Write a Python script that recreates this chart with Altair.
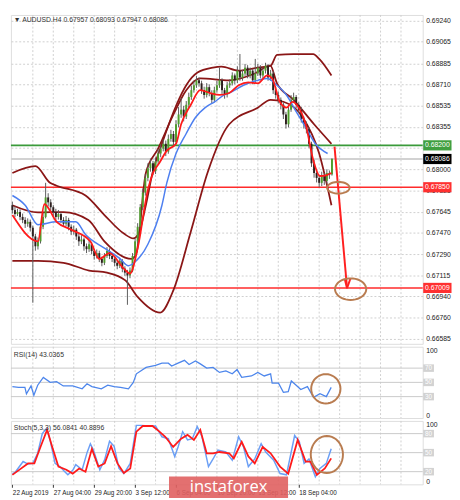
import math
import altair as alt
import pandas as pd

# ---------------- data (prices in 1e-5 units) ----------------
BAR = list(range(126))
OPEN = [67700,67659,67626,67643,67602,67577,67545,67561,67512,67439,67357,67398,67520,67602,67765,67724,67683,67643,67602,67626,
        67577,67545,67577,67520,67480,67496,67439,67398,67414,67357,67333,67374,67317,67276,67300,67251,67219,67276,67317,67276,
        67251,67219,67194,67235,67170,67137,67113,67154,67276,67398,67520,67683,67806,67928,68009,68050,67985,68066,68132,68172,
        68213,68148,68254,68295,68229,68376,68458,68498,68441,68539,68604,68661,68702,68743,68718,68661,68621,68686,68637,68580,
        68661,68702,68743,68661,68621,68702,68718,68784,68743,68824,68767,68800,68849,68784,68824,68743,68800,68849,68784,68824,
        68865,68767,68800,68661,68621,68580,68539,68458,68376,68498,68580,68604,68539,68498,68417,68376,68335,68213,68050,67969,
        67928,67887,67952,67903,67969,67957]
HIGH = [67730,67690,67670,67665,67630,67600,67590,67580,67530,67460,67430,67545,67640,67887,67800,67750,67700,67670,67660,67640,
        67600,67610,67595,67540,67530,67510,67460,67450,67430,67380,67410,67390,67335,67330,67320,67270,67300,67350,67340,67300,
        67270,67240,67260,67250,67190,67160,67180,67300,67420,67550,67710,67840,67960,68050,68090,68070,68100,68170,68210,68250,
        68240,68290,68330,68320,68410,68520,68596,68530,68570,68640,68700,68740,68780,68770,68740,68690,68720,68710,68660,68690,
        68740,68849,68760,68680,68730,68750,68810,68800,68860,68963,68830,68880,68870,68850,68840,68922,68880,68870,68850,68890,
        68880,68830,68820,68690,68650,68600,68560,68480,68520,68620,68640,68620,68560,68520,68440,68400,68350,68230,68080,68000,
        67950,67980,67970,68000,67990,68093]
LOW = [67630,67600,67610,67575,67550,67510,67520,67480,66885,67320,67330,67380,67500,67590,67690,67650,67610,67570,67580,67550,
       67520,67525,67490,67450,67455,67410,67360,67375,67320,67300,67310,67290,67245,67255,67225,67190,67200,67260,67250,67225,
       67190,67165,67175,67140,67110,66868,67090,67140,67260,67380,67500,67660,67780,67900,67980,67950,67960,68040,68100,68150,
       68110,68130,68230,68190,68210,68350,68430,68400,68420,68510,68580,68640,68680,68690,68630,68590,68600,68610,68550,68560,
       68640,68680,68630,68590,68600,68680,68700,68710,68720,68740,68740,68780,68760,68760,68710,68720,68780,68760,68760,68800,
       68740,68740,68630,68590,68550,68500,68420,68340,68350,68480,68560,68510,68470,68390,68340,68300,68180,68020,67930,67890,
       67850,67860,67870,67880,67920,67947]
CLOSE = [67659,67626,67643,67602,67577,67545,67561,67512,67439,67357,67398,67520,67602,67765,67724,67683,67643,67602,67626,67577,
         67545,67577,67520,67480,67496,67439,67398,67414,67357,67333,67374,67317,67276,67300,67251,67219,67276,67317,67276,67251,
         67219,67194,67235,67170,67137,67113,67154,67276,67398,67520,67683,67806,67928,68009,68050,67985,68066,68132,68172,68213,
         68148,68254,68295,68229,68376,68458,68498,68441,68539,68604,68661,68702,68743,68718,68661,68621,68686,68637,68580,68661,
         68702,68743,68661,68621,68702,68718,68784,68743,68824,68767,68800,68849,68784,68824,68743,68800,68849,68784,68824,68865,
         68767,68800,68661,68621,68580,68539,68458,68376,68498,68580,68604,68539,68498,68417,68376,68335,68213,68050,67969,67928,
         67887,67952,67903,67969,67957,68086]

RED_MA_I = [0,10,12.5,17.3,23,30.5,34,38,43.6,46,49,53,55,57.4,60.4,64,66,69.8,73.5,77.3,81,84.8,88.5,92.3,96,99.7,101.6,104.6,107.2,109.5,112,114.7,117.7,120.3,123,124.8]
RED_MA_P = [67618,67398,67708,67561,67496,67398,67251,67300,67170,67129,67341,67830,67969,68050,68156,68213,68376,68539,68661,68637,68621,68637,68702,68727,68718,68784,68759,68564,68515,68564,68515,68376,68075,67944,67952,67969]

BLUE_MA_I = [0,5,10,17.3,24.8,28.6,36,41.7,45.4,48.4,53,58.5,60.4,64,67.9,71.6,75.4,79.1,82.9,84.8,90.4,96,99.7,103.5,107.2,111,114.7,118.5,123.3]
BLUE_MA_P = [67781,67700,67537,67561,67561,67455,67341,67260,67194,67235,67374,67700,67887,68132,68295,68433,68515,68564,68621,68637,68702,68743,68759,68702,68621,68482,68352,68213,68132]

BBU_I = [0,9,14.7,17.3,28.6,36,43.6,47.3,49.2,52.2,54.8,58.5,64.2,68,72.4,78.4,81.8,88.5,96,101,103.5,110,117.7,120,124.8]
BBU_P = [67969,68026,67887,67863,67781,67618,67463,67423,67455,67700,67969,68213,68539,68702,68808,68849,68857,68824,68849,68865,68955,68963,68963,68922,68784]

BBL_I = [0,10,20,30,37,44.2,49,57.8,63,69.8,76.3,84.8,96,101,106,113.6,120,124.8]
BBL_P = [67235,67235,67219,67154,67137,67072,66934,66803,66991,67480,67969,68376,68515,68580,68564,68433,68132,67700]

INU_I = [0,10,20,29.7,36,46.6,48.5,52.2,57,63,68,73.5,84.8,94.8,100.9,103.5,110,118,124.8]
INU_P = [67700,67640,67643,67577,67398,67251,67300,67969,68172,68458,68660,68760,68743,68800,68865,68718,68580,68376,68213]

RSI_I = [0,2.4,4.9,5.5,7.3,8.4,9.9,12.1,14.8,17.3,19.9,23.6,27.3,29.2,31.1,34.8,37.3,39.8,42.3,45.4,47.3,48.5,52.3,56,58.5,61,62.3,64.8,67.3,69.1,
         71.6,73.5,76,78.5,81,83.5,86,87.9,89.7,93.5,96,98.5,101,101.6,104.1,106,107.9,109.1,111,112.8,115.4,117.8,120.3,122.8,124.7]
RSI_V = [44,43,43,34,45,32,46,57,50,51,45,45,41,48,44,41,46,44,43,41,50,62,71,74,77,77,73,77,81,75,
         80,76,70,71,64,66,62,68,57,59,64,59,62,49,49,36,37,52,46,40,44,29,34,30,43]

STK_I = [0,1.1,4.2,6.1,8,9.9,11.7,13.4,14.8,16.7,18.6,20.5,21.7,23.6,24.8,27.3,29.2,30.5,31.7,34.2,36.1,38,39.8,41.7,43.6,46.1,48.5,50.4,53.5,56,
         58.5,61,63.5,64.8,66.6,68.5,70.4,72.3,74.1,76.7,78.5,80.4,83.5,86,88.5,90.4,92.3,94.8,97.3,99.1,102.2,104.7,107.2,110.4,112.2,114.1,116,118.5,120.3,122.8,124.7]
STK_K = [17,19,36,32,33,49,80,88,69,33,28,20,15,22,31,23,50,64,54,23,39,68,60,25,17,33,93,93,92,92,
         75,72,44,59,83,70,72,91,76,28,40,54,51,38,75,59,28,40,64,51,38,17,15,77,68,33,40,12,25,33,56]
STK_D_I = [0,2.4,6.1,8.6,11.1,13.6,15.5,18,21.1,23.6,26.1,28.6,31.1,33.6,36.1,38.6,41.1,43.6,46.1,48.5,51,54.8,57.3,59.8,62.9,66,68.5,71,73.5,
           76,78.5,81,84.8,86.6,89.7,92.3,94.8,97.9,101,104.7,107.9,111.6,114.7,116.6,119.1,122.2,124.7]
STK_D = [15,22,33,33,60,86,60,28,23,17,25,20,56,28,33,60,33,18,25,83,92,92,84,75,59,72,78,70,86,
         49,49,51,49,41,67,44,33,59,49,28,17,70,36,36,15,25,41]

Y_TICKS = [0.69240,0.69065,0.68885,0.68710,0.68535,0.68355,0.68180,0.68000,0.67825,0.67645,0.67470,0.67290,0.67115,0.66940,0.66760,0.66585]
TAG_P = [0.68200, 0.68086, 0.67850, 0.67009]
TAG_TXT = ["0.68200", "0.68086", "0.67850", "0.67009"]
TAG_BG = ["#3f9f3f", "#000000", "#ff3030", "#ff3030"]
DATE_TICKS = [0, 16, 32, 48, 64, 80, 96, 112]
DATE_LABELS = ["22 Aug 2019", "27 Aug 04:00", "29 Aug 20:00", "3 Sep 12:00", "6 Sep 04:00", "10 Sep 20:00", "13 Sep 12:00", "18 Sep 04:00"]
GRID_X = list(range(8, 160, 8))
RSI_LEVELS = [70, 50, 30]
STK_LEVELS = [80, 50, 20]

TITLE = "\u25BC AUDUSD.H4 0.67957 0.68093 0.67947 0.68086"
RSI_TITLE = "RSI(14) 43.0365"
STK_TITLE = "Stoch(5,3,3) 56.0841 40.8896"

ARROW = dict(i=[126.0], p=[0.68189], i2=[130.9], p2=[0.67007])
HEAD = dict(i=[130.0, 132.2], p=[0.67086, 0.67086], i2=[130.9, 130.9], p2=[0.67007, 0.67007])

# ---------------- layout ----------------
W = 422
H_MAIN, H_RSI, H_STK = 337, 73, 65
XDOM = [-0.57, 160.5]
PDOM = [0.66542, 0.69289]
FONT = "Liberation Sans"
BROWN = "#8a1616"
ANNO = "#b97c50"


def ellipse(ry, n=40):
    pts = [(math.cos(2 * math.pi * k / n), ry * math.sin(2 * math.pi * k / n)) for k in range(n)]
    return "M" + "L".join(f"{x:.3f},{y:.3f}" for x, y in pts) + "Z"


def rect(h):
    return f"M-1,-{h}H1V{h}H-1Z"


def xq(axis=None):
    return alt.X("i:Q", scale=alt.Scale(domain=XDOM, nice=False, zero=False), axis=axis, title=None)


df = pd.DataFrame({"i": BAR, "o": OPEN, "h": HIGH, "l": LOW, "c": CLOSE})
for k in "ohlc":
    df[k] = df[k] / 1e5
df["up"] = df["c"] >= df["o"]


def series(I, P, scale=1e5):
    return pd.DataFrame({"i": I, "p": [v / scale for v in P]})


main_axis = alt.Axis(orient="right", values=Y_TICKS, format=".5f", grid=True, gridDash=[2, 2],
                     gridColor="#cfcfcf", labelFontSize=7, labelFont=FONT, labelColor="#222",
                     ticks=False, domain=False, labelPadding=3, title=None)


def py(field, axis=main_axis):
    return alt.Y(f"{field}:Q", scale=alt.Scale(domain=PDOM, nice=False, zero=False), axis=axis, title=None)


vgrid = alt.Chart(pd.DataFrame({"i": GRID_X})).mark_rule(color="#cfcfcf", strokeDash=[2, 2], strokeWidth=1)

m_grid = vgrid.encode(x=xq())
m_last = alt.Chart(pd.DataFrame({"p": [0.68086]})).mark_rule(color="#d2d2d2", strokeWidth=2).encode(y=py("p"))
m_lvl = alt.Chart(pd.DataFrame({"p": [0.68200, 0.67850, 0.67009], "col": ["#3a9a3a", "#ff2b2b", "#ff2b2b"]})).mark_rule(
    strokeWidth=1.6).encode(y=py("p"), color=alt.Color("col:N", scale=None))


def line(d, color, width):
    return alt.Chart(d).mark_line(color=color, strokeWidth=width, interpolate="monotone").encode(x=xq(), y=py("p"))


m_bbu = line(series(BBU_I, BBU_P), BROWN, 1.8)
m_bbl = line(series(BBL_I, BBL_P), BROWN, 1.8)
m_inu = line(series(INU_I, INU_P), BROWN, 1.8)
m_wick = alt.Chart(df).mark_rule(color="#5a5a5a", strokeWidth=1).encode(x=xq(), y=py("l"), y2="h:Q")
m_body = alt.Chart(df).mark_rule(strokeWidth=2).encode(
    x=xq(), y=py("o"), y2="c:Q",
    color=alt.Color("up:N", scale=alt.Scale(domain=[True, False], range=["#4f9d2c", "#2e1f1f"]), legend=None))
m_blue = line(series(BLUE_MA_I, BLUE_MA_P), "#4d7ff0", 1.5)
m_red = line(series(RED_MA_I, RED_MA_P), "#ff1a1a", 1.8)

m_arrow = alt.Chart(pd.DataFrame(ARROW)).mark_rule(color="#ff2020", strokeWidth=2).encode(
    x=xq(), x2="i2:Q", y=py("p"), y2="p2:Q")
m_head = alt.Chart(pd.DataFrame(HEAD)).mark_rule(color="#ff2020", strokeWidth=2).encode(
    x=xq(), x2="i2:Q", y=py("p"), y2="p2:Q")
m_e1 = alt.Chart(pd.DataFrame({"i": [127.5], "p": [0.67846]})).mark_point(
    shape=ellipse(0.52), size=529, filled=False, stroke=ANNO, strokeWidth=2, opacity=1).encode(x=xq(), y=py("p"))
m_e2 = alt.Chart(pd.DataFrame({"i": [132.3], "p": [0.66999]})).mark_point(
    shape=ellipse(0.69), size=1024, filled=False, stroke=ANNO, strokeWidth=2, opacity=1).encode(x=xq(), y=py("p"))

tags = pd.DataFrame({"p": TAG_P, "t": TAG_TXT, "bg": TAG_BG})
m_tagbox = alt.Chart(tags).mark_point(shape=rect(0.36), size=841, filled=True, opacity=1).encode(
    x=alt.value(W + 15), y=py("p"), color=alt.Color("bg:N", scale=None))
m_tagtxt = alt.Chart(tags).mark_text(color="white", fontSize=7, font=FONT, align="center", baseline="middle").encode(
    x=alt.value(W + 15), y=py("p"), text="t:N")
m_title = alt.Chart(pd.DataFrame({"t": [TITLE]})).mark_text(
    fontSize=7, font=FONT, color="#333", align="left", baseline="middle").encode(
    x=alt.value(3), y=alt.value(5), text="t:N")

main = alt.layer(m_grid, m_last, m_lvl, m_bbu, m_bbl, m_inu, m_wick, m_body, m_blue, m_red,
                 m_arrow, m_head, m_e1, m_e2, m_tagbox, m_tagtxt, m_title).properties(width=W, height=H_MAIN)


def osc_axis():
    return alt.Axis(orient="right", values=[0, 100], grid=False, ticks=False, domain=False, labelFlush=True,
                    labelFontSize=7, labelFont=FONT, labelColor="#222", labelPadding=3, title=None)


def vy(field):
    return alt.Y(f"{field}:Q", scale=alt.Scale(domain=[0, 100], nice=False, zero=False), axis=osc_axis(), title=None)


def level_layers(levels):
    d = pd.DataFrame({"v": levels, "t": [str(v) for v in levels]})
    r = alt.Chart(d).mark_rule(color="#c8c8c8", strokeWidth=1).encode(y=vy("v"))
    b = alt.Chart(d).mark_point(shape=rect(0.7), size=121, filled=True, opacity=1, color="#d2d2d2").encode(
        x=alt.value(W + 6), y=vy("v"))
    t = alt.Chart(d).mark_text(color="white", fontSize=6.5, font=FONT, align="center", baseline="middle").encode(
        x=alt.value(W + 6), y=vy("v"), text="t:N")
    return [r, b, t]


rsi_d = pd.DataFrame({"i": RSI_I, "v": RSI_V})
r_grid = vgrid.encode(x=xq())
r_line = alt.Chart(rsi_d).mark_line(color="#4d86ec", strokeWidth=1.3).encode(x=xq(), y=vy("v"))
r_circ = alt.Chart(pd.DataFrame({"i": [122.6], "v": [41]})).mark_point(
    shape=ellipse(1.0), size=900, filled=False, stroke=ANNO, strokeWidth=2, opacity=1).encode(x=xq(), y=vy("v"))
r_title = alt.Chart(pd.DataFrame({"t": [RSI_TITLE]})).mark_text(
    fontSize=7, font=FONT, color="#333", align="left", baseline="middle").encode(
    x=alt.value(3), y=alt.value(8), text="t:N")
rsi = alt.layer(r_grid, *level_layers(RSI_LEVELS), r_line, r_circ, r_title).properties(width=W, height=H_RSI)

label_expr = "[" + ",".join(f"'{s}'" for s in DATE_LABELS) + "][round(datum.value/16)]"
x_axis = alt.Axis(values=DATE_TICKS, labelExpr=label_expr, labelAlign="left", labelFlush=False, labelOverlap=False,
                  grid=False, ticks=True, tickSize=3, tickColor="#333", domain=False, labelFontSize=6.5,
                  labelFont=FONT, labelColor="#222", labelPadding=2, title=None, zindex=0)

k_d = pd.DataFrame({"i": STK_I, "v": STK_K})
d_d = pd.DataFrame({"i": STK_D_I, "v": STK_D})
s_grid = vgrid.encode(x=xq(x_axis))
s_k = alt.Chart(k_d).mark_line(color="#6b9ff5", strokeWidth=1.5).encode(x=xq(x_axis), y=vy("v"))
s_d = alt.Chart(d_d).mark_line(color="#ff1a1a", strokeWidth=1.8).encode(x=xq(x_axis), y=vy("v"))
s_circ = alt.Chart(pd.DataFrame({"i": [123.0], "v": [47]})).mark_point(
    shape=ellipse(1.15), size=1089, filled=False, stroke=ANNO, strokeWidth=2, opacity=1).encode(x=xq(x_axis), y=vy("v"))
s_title = alt.Chart(pd.DataFrame({"t": [STK_TITLE]})).mark_text(
    fontSize=7, font=FONT, color="#333", align="left", baseline="middle").encode(
    x=alt.value(3), y=alt.value(7), text="t:N")
wm_box = alt.Chart(pd.DataFrame({"a": [0]})).mark_rect(color="#e06060", opacity=0.9).encode(
    x=alt.value(162), x2=alt.value(284), y=alt.value(57), y2=alt.value(79))
wm_txt = alt.Chart(pd.DataFrame({"t": ["instaforex"]})).mark_text(
    fontSize=17, font="Open Sans", color="white", align="center", baseline="middle").encode(
    x=alt.value(223), y=alt.value(68), text="t:N")
stk = alt.layer(s_grid, *level_layers(STK_LEVELS), s_k, s_d, s_circ, s_title, wm_box, wm_txt).properties(
    width=W, height=H_STK)

chart = alt.vconcat(main, rsi, stk, spacing=1).properties(
    padding={"left": 0, "top": 0, "right": 0, "bottom": 0}
).configure_view(stroke="#5a5a5a", strokeWidth=1.5).configure(background="white")

chart.save("out.html", embed_options={"renderer": "svg", "actions": False})
